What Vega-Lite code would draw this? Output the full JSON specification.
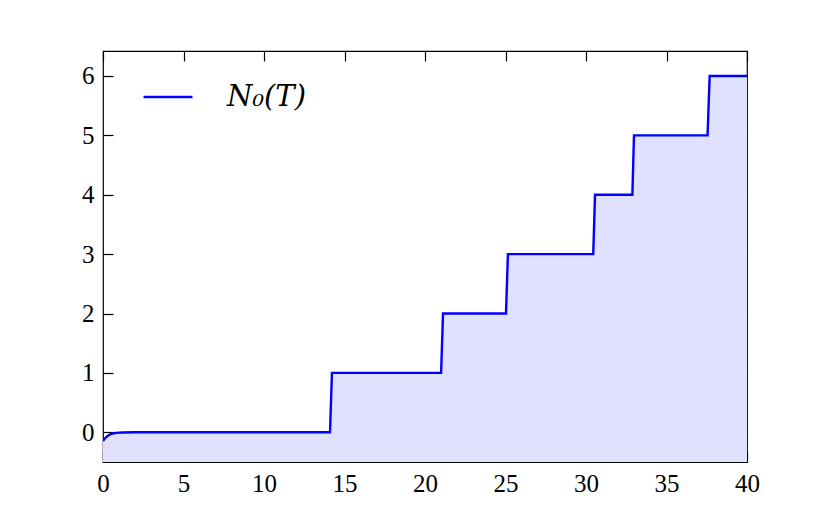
{
  "$schema": "https://vega.github.io/schema/vega-lite/v6.json",
  "width": 644,
  "height": 411,
  "autosize": "none",
  "padding": {"left": 103, "top": 51, "right": 84, "bottom": 52},
  "background": "white",
  "config": {
    "view": {"stroke": "black", "strokeWidth": 1.2},
    "axis": {
      "grid": false,
      "domain": false,
      "ticks": true,
      "tickSize": -10,
      "tickColor": "black",
      "tickWidth": 1.2,
      "labelFont": "Liberation Serif",
      "labelFontSize": 25,
      "labelColor": "black",
      "labelPadding": 19,
      "labelFlush": false,
      "labelOverlap": false,
      "title": null
    },
    "legend": {
      "labelFont": "DejaVu Serif",
      "labelFontSize": 29,
      "labelFontStyle": "italic",
      "labelColor": "black"
    }
  },
  "data": {
    "values": [
      {"x": 0, "y": -0.145, "s": "N₀(T)"},
      {"x": 0.1, "y": -0.11, "s": "N₀(T)"},
      {"x": 0.2, "y": -0.08, "s": "N₀(T)"},
      {"x": 0.3, "y": -0.058, "s": "N₀(T)"},
      {"x": 0.45, "y": -0.035, "s": "N₀(T)"},
      {"x": 0.6, "y": -0.02, "s": "N₀(T)"},
      {"x": 0.8, "y": -0.01, "s": "N₀(T)"},
      {"x": 1.2, "y": -0.003, "s": "N₀(T)"},
      {"x": 2, "y": 0, "s": "N₀(T)"},
      {"x": 14.1, "y": 0, "s": "N₀(T)"},
      {"x": 14.22, "y": 1, "s": "N₀(T)"},
      {"x": 21.0, "y": 1, "s": "N₀(T)"},
      {"x": 21.12, "y": 2, "s": "N₀(T)"},
      {"x": 25.03, "y": 2, "s": "N₀(T)"},
      {"x": 25.15, "y": 3, "s": "N₀(T)"},
      {"x": 30.45, "y": 3, "s": "N₀(T)"},
      {"x": 30.56, "y": 4, "s": "N₀(T)"},
      {"x": 32.88, "y": 4, "s": "N₀(T)"},
      {"x": 32.98, "y": 5, "s": "N₀(T)"},
      {"x": 37.55, "y": 5, "s": "N₀(T)"},
      {"x": 37.68, "y": 6, "s": "N₀(T)"},
      {"x": 40, "y": 6, "s": "N₀(T)"}
    ]
  },
  "layer": [
    {
      "mark": {"type": "area", "fill": "#e0e0ff", "opacity": 1, "clip": true},
      "encoding": {
        "x": {"field": "x", "type": "quantitative", "scale": {"domain": [0, 40], "nice": false, "zero": false},
              "axis": {"orient": "bottom", "values": [0, 5, 10, 15, 20, 25, 30, 35, 40]}},
        "y": {"field": "y", "type": "quantitative", "scale": {"domain": [-0.5, 6.42], "nice": false, "zero": false},
              "axis": {"orient": "left", "values": [0, 1, 2, 3, 4, 5, 6]}},
        "y2": {"datum": -0.5}
      }
    },
    {
      "mark": {"type": "line", "strokeWidth": 2.4, "clip": true},
      "encoding": {
        "x": {"field": "x", "type": "quantitative",
              "axis": {"orient": "top", "labels": false, "values": [0, 5, 10, 15, 20, 25, 30, 35, 40]}},
        "y": {"field": "y", "type": "quantitative",
              "axis": {"orient": "right", "labels": false, "values": [0, 1, 2, 3, 4, 5, 6]}},
        "color": {"field": "s", "type": "nominal", "scale": {"range": ["#0000ff"]},
                  "legend": {"title": null, "orient": "none", "legendX": 39, "legendY": 20,
                             "symbolType": "stroke", "symbolSize": 2401, "symbolStrokeWidth": 2.4,
                             "labelOffset": 33, "padding": 0}}
      }
    }
  ],
  "resolve": {"axis": {"x": "independent", "y": "independent"}}
}
